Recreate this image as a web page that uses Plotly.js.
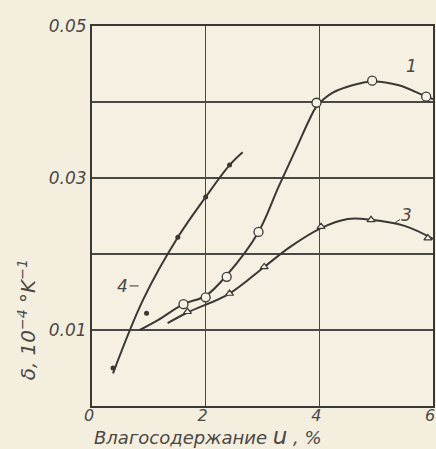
<!DOCTYPE html>
<html>
<head>
<meta charset="utf-8">
<script src="https://cdn.plot.ly/plotly-3.0.1.min.js"></script>
<style>html,body{margin:0;padding:0;background:#f4eedf;}</style>
</head>
<body>
<div id="chart" style="width:436px;height:449px;"></div>
<script>
// Curve 1 (open circles)
const c1LineX = [0.84, 1.16, 1.61, 2.0, 2.37, 2.93, 3.28, 3.6, 3.82, 3.95, 4.23, 4.58, 4.93, 5.4, 5.88, 6.0];
const c1LineY = [0.0100, 0.0113, 0.0134, 0.0145, 0.0172, 0.0229, 0.0288, 0.0340, 0.0376, 0.0394, 0.0412, 0.0422, 0.0427, 0.0422, 0.0407, 0.0404];
const c1PtsX = [1.61, 2.0, 2.37, 2.93, 3.95, 4.93, 5.88];
const c1PtsY = [0.0134, 0.0143, 0.0170, 0.0229, 0.0399, 0.0428, 0.0407];

// Curve 3 (open triangles)
const c3LineX = [1.33, 1.68, 2.42, 3.03, 3.5, 4.03, 4.5, 4.91, 5.5, 6.0];
const c3LineY = [0.0109, 0.0123, 0.0148, 0.0183, 0.0210, 0.0234, 0.0246, 0.0245, 0.0237, 0.0220];
const c3PtsX = [1.68, 2.42, 3.03, 4.03, 4.91, 5.91];
const c3PtsY = [0.0124, 0.0148, 0.0183, 0.0236, 0.0245, 0.0221];

// Curve 4 (filled points)
const c4LineX = [0.37, 0.9, 1.51, 2.0, 2.42, 2.65];
const c4LineY = [0.0043, 0.0140, 0.0222, 0.0275, 0.0317, 0.0334];
const c4PtsX = [0.37, 0.96, 1.51, 2.0, 2.42];
const c4PtsY = [0.0050, 0.0122, 0.0222, 0.0275, 0.0317];

const xTickVals = [0, 2, 4, 6];
const xTickText = ["0", "2", "4", "6"];
const yTickVals = [0, 0.01, 0.02, 0.03, 0.04, 0.05];
const yTickText = ["", "0.01", "", "0.03", "", "0.05"];

const ink = "#3a3835";
const txt = "#4a4845";
const lineStyle = {color: ink, width: 2, shape: "spline", smoothing: 1};

const traces = [
  {x: c1LineX, y: c1LineY, mode: "lines", line: lineStyle, hoverinfo: "skip"},
  {x: c3LineX, y: c3LineY, mode: "lines", line: lineStyle, hoverinfo: "skip"},
  {x: c4LineX, y: c4LineY, mode: "lines", line: lineStyle, hoverinfo: "skip"},
  {x: c1PtsX, y: c1PtsY, mode: "markers", marker: {symbol: "circle", size: 9, color: "#f7f2e6", line: {color: ink, width: 1.3}}},
  {x: c3PtsX, y: c3PtsY, mode: "markers", marker: {symbol: "triangle-up", size: 7, color: "#f7f2e6", line: {color: ink, width: 1.2}}},
  {x: c4PtsX, y: c4PtsY, mode: "markers", marker: {symbol: "circle", size: 5, color: ink}}
];

const tickFont = {family: "DejaVu Sans", size: 17, color: txt, style: "italic"};
const xTickFont = {family: "DejaVu Sans", size: 16, color: txt, style: "italic"};
const labFont = {family: "DejaVu Sans", size: 18, color: txt, style: "italic"};

const layout = {
  width: 436, height: 449,
  margin: {l: 92, r: 3, t: 26, b: 43},
  paper_bgcolor: "#f4eedf",
  plot_bgcolor: "#f6f0e2",
  showlegend: false,
  xaxis: {
    range: [0, 6], tickvals: xTickVals, ticktext: xTickText,
    showgrid: true, gridcolor: "#4a4845", gridwidth: 1.2,
    showline: true, linecolor: ink, linewidth: 2, mirror: true,
    zeroline: false, ticks: "", ticklen: 0, tickfont: xTickFont,
    ticklabeloverflow: "allow", ticklabelstandoff: -6, ticklabelshift: -3
  },
  yaxis: {
    range: [0, 0.05], tickvals: yTickVals, ticktext: yTickText,
    showgrid: true, gridcolor: "#4a4845", gridwidth: 1.2,
    showline: true, linecolor: ink, linewidth: 2, mirror: true,
    zeroline: false, ticks: "", ticklen: 0, tickfont: tickFont,
    ticklabeloverflow: "allow"
  },
  annotations: [
    {xref: "paper", yref: "paper", x: -0.19, y: 0.226, xanchor: "center", yanchor: "middle",
     text: "δ, 10<sup>−4</sup> °K<sup>−1</sup>", textangle: -90, showarrow: false,
     font: {family: "DejaVu Sans", size: 20, color: txt, style: "italic"}},
    {xref: "paper", yref: "paper", x: 0.0, y: -0.04, xanchor: "left", yanchor: "top",
     text: "Влагосодержание <span style=\"font-size:23px\"><i>u</i></span> , %", showarrow: false, font: labFont},
    {x: 5.63, y: 0.0447, text: "1", showarrow: false, font: {family: "DejaVu Sans", size: 17, color: txt, style: "italic"}},
    {x: 5.33, y: 0.0241, ax: 12, ay: -8, text: "3", showarrow: true, arrowhead: 0, arrowwidth: 1, arrowcolor: ink,
     font: {family: "DejaVu Sans", size: 17, color: txt, style: "italic"}},
    {x: 0.82, y: 0.0158, ax: -16, ay: 0, text: "4", showarrow: true, arrowhead: 0, arrowwidth: 1, arrowcolor: ink,
     font: {family: "DejaVu Sans", size: 17, color: txt, style: "italic"}}
  ]
};

Plotly.newPlot("chart", traces, layout, {staticPlot: true, displayModeBar: false});
</script>
</body>
</html>
